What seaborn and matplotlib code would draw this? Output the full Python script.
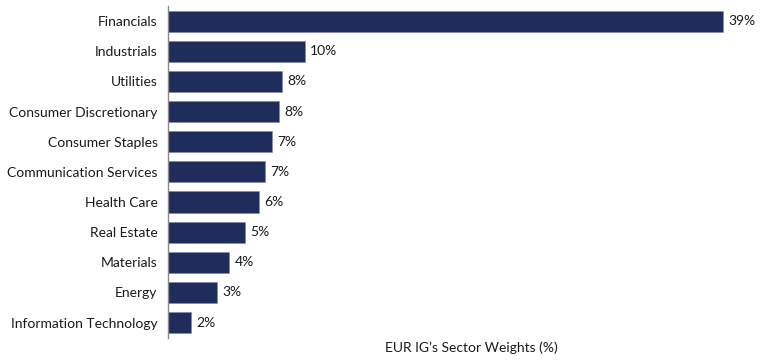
import matplotlib
matplotlib.use("Agg")
import matplotlib.pyplot as plt
import seaborn as sns
import pandas as pd

sectors = ["Financials", "Industrials", "Utilities", "Consumer Discretionary",
           "Consumer Staples", "Communication Services", "Health Care",
           "Real Estate", "Materials", "Energy", "Information Technology"]
weights = [39.0, 9.6, 8.0, 7.8, 7.3, 6.8, 6.4, 5.4, 4.3, 3.45, 1.6]
xlabel = "EUR IG\u2019s Sector Weights (%)"

sns.set_theme(style="white")
plt.rcParams['font.family'] = ['Lato', 'DejaVu Sans']

df = pd.DataFrame({"sector": sectors, "weight": weights})

fig = plt.figure(figsize=(7.8, 3.6), dpi=100)
ax = fig.add_axes([0.2154, 0.062, 0.992 - 0.2154, 0.921])
sns.barplot(data=df, x="weight", y="sector", color="#1F2D5C", saturation=1,
            width=0.7, edgecolor="#7f88a8", linewidth=0.4, ax=ax)

fs = 10
for i, v in enumerate(weights):
    ax.text(v + 0.4, i, f"{v:.0f}%", va="center", ha="left",
            fontsize=fs, color="#1a1a1a")

ax.set_xlim(0, 42.6)
ax.set_ylim(10.5, -0.5)
ax.set_xticks([])
ax.set_ylabel("")
ax.set_xlabel(xlabel, fontsize=fs, color="#1a1a1a", labelpad=3)
ax.tick_params(axis="y", length=0, pad=7.5, labelsize=fs, labelcolor="#1a1a1a")
for s in ["top", "right", "bottom"]:
    ax.spines[s].set_visible(False)
ax.spines["left"].set_color("#8a8a8a")
ax.spines["left"].set_linewidth(1.0)

fig.savefig("out.png", dpi=100)
